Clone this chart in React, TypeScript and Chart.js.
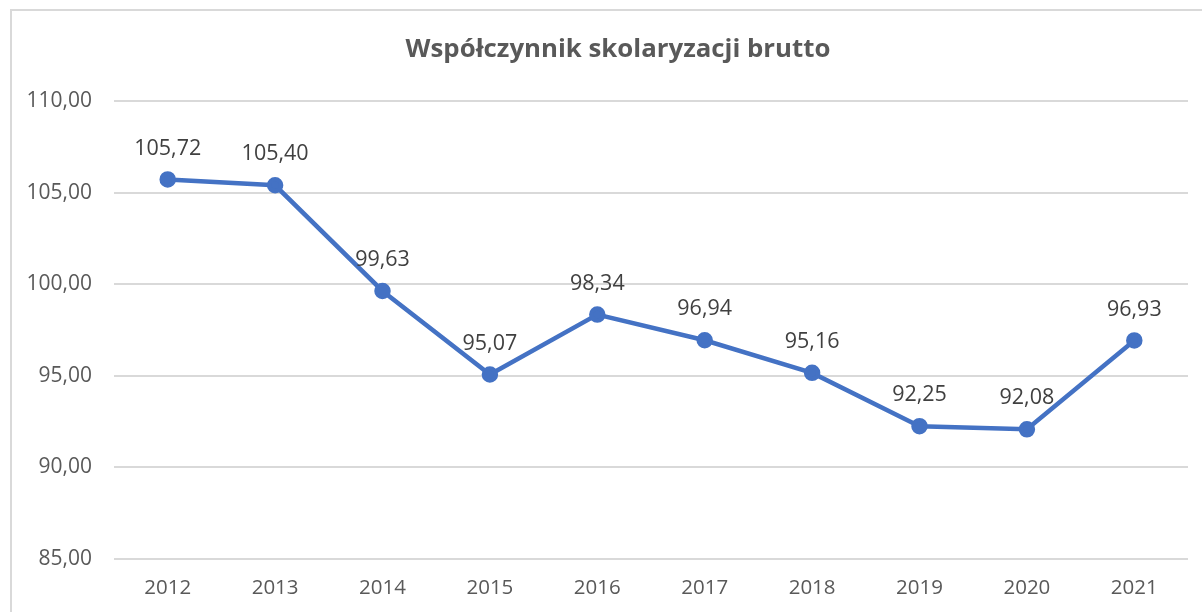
import React, { useEffect, useRef } from "react";
import { Chart, registerables } from "chart.js";

Chart.register(...registerables);

const title = "Współczynnik skolaryzacji brutto";
const categories = ["2012", "2013", "2014", "2015", "2016", "2017", "2018", "2019", "2020", "2021"];
const values = [105.72, 105.4, 99.63, 95.07, 98.34, 96.94, 95.16, 92.25, 92.08, 96.93];
const yMin = 85;
const yMax = 110;
const yStep = 5;

const FONT = "'Open Sans', 'DejaVu Sans', sans-serif";
const fmt = (v: number) => v.toFixed(2).replace(".", ",");

const framePlugin = {
  id: "frame",
  beforeDraw(chart: any) {
    const ctx = chart.ctx;
    ctx.save();
    ctx.fillStyle = "#ffffff";
    ctx.fillRect(0, 0, chart.width, chart.height);
    ctx.strokeStyle = "#D9D9D9";
    ctx.lineWidth = 2;
    ctx.strokeRect(11, 10, chart.width + 50, chart.height + 50);
    ctx.restore();
  },
};

const titlePlugin = {
  id: "customTitle",
  afterDraw(chart: any) {
    const ctx = chart.ctx;
    ctx.save();
    ctx.font = `bold 25.8px ${FONT}`;
    ctx.fillStyle = "#595959";
    ctx.textAlign = "center";
    ctx.textBaseline = "middle";
    ctx.fillText(title, chart.width / 2, 50);
    ctx.restore();
  },
};

const labelPlugin = {
  id: "pointLabels",
  afterDatasetsDraw(chart: any) {
    const ctx = chart.ctx;
    const meta = chart.getDatasetMeta(0);
    ctx.save();
    ctx.font = `21.5px ${FONT}`;
    ctx.fillStyle = "#404040";
    ctx.textAlign = "center";
    ctx.textBaseline = "middle";
    meta.data.forEach((pt: any, i: number) => {
      ctx.fillText(fmt(values[i]), pt.x, pt.y - 31);
    });
    ctx.restore();
  },
};

export default function App() {
  const ref = useRef<HTMLCanvasElement | null>(null);
  useEffect(() => {
    if (!ref.current) return;
    const chart = new Chart(ref.current, {
      type: "line",
      data: {
        labels: categories,
        datasets: [
          {
            data: values,
            borderColor: "#4472C4",
            backgroundColor: "#4472C4",
            borderWidth: 4.5,
            pointRadius: 6,
            pointHoverRadius: 6,
            pointBackgroundColor: "#4472C4",
            pointBorderColor: "#4472C4",
            tension: 0,
            fill: false,
          },
        ],
      },
      options: {
        responsive: false,
        animation: false,
        layout: { padding: { top: 101, right: 48, bottom: 0, left: 0 } },
        plugins: {
          legend: { display: false },
          title: { display: false },
          tooltip: { enabled: false },
        },
        scales: {
          x: {
            offset: true,
            grid: { display: false, drawTicks: false },
            border: { display: false },
            ticks: {
              color: "#595959",
              font: { family: FONT, size: 20.5 },
              padding: 17,
              maxRotation: 0,
            },
            afterFit(scale: any) {
              scale.height = 53;
            },
          },
          y: {
            min: yMin,
            max: yMax,
            grid: { color: "#D9D9D9", lineWidth: 2, drawTicks: false },
            border: { display: false },
            ticks: {
              stepSize: yStep,
              color: "#595959",
              font: { family: FONT, size: 21 },
              padding: 22,
              callback: (v: any) => fmt(Number(v)),
            },
            afterFit(scale: any) {
              scale.width = 114;
            },
          },
        },
      },
      plugins: [framePlugin, titlePlugin, labelPlugin],
    });
    return () => chart.destroy();
  }, []);
  return (
    <div
      style={{
        position: "fixed",
        left: 0,
        top: 0,
        width: 1202,
        height: 612,
        overflow: "hidden",
        background: "#fff",
      }}
    >
      <canvas ref={ref} width={1236} height={612} style={{ width: 1236, height: 612, display: "block" }} />
    </div>
  );
}
